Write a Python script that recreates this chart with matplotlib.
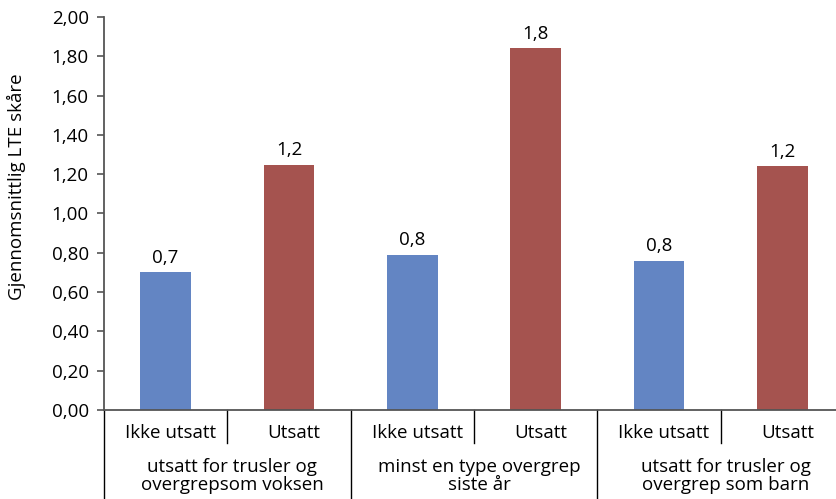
import matplotlib
matplotlib.use("Agg")
import matplotlib.pyplot as plt
from matplotlib.transforms import blended_transform_factory, ScaledTranslation

plt.rcParams['font.family'] = ['Open Sans', 'DejaVu Sans']

groups = ["utsatt for trusler og\novergrepsom voksen",
          "minst en type overgrep\nsiste år",
          "utsatt for trusler og\novergrep som barn"]
subcats = ["Ikke utsatt", "Utsatt"]
values = [0.70, 1.249, 0.79, 1.84, 0.76, 1.24]
colors = ["#6385C3", "#A5534F"]
yticks = [0.0, 0.2, 0.4, 0.6, 0.8, 1.0, 1.2, 1.4, 1.6, 1.8, 2.0]
ylabel = "Gjennomsnittlig LTE skåre"

FS = 13.5
AXIS_COLOR = "#555555"
W, H = 836, 499
fig = plt.figure(figsize=(W / 100, H / 100), dpi=100)
ax = fig.add_axes([104 / W, (H - 410) / H, (844 - 104) / W, (410 - 17) / H])

n = len(values)
xs = list(range(n))
bar_colors = [colors[i % 2] for i in xs]
ax.bar(xs, values, width=0.41, color=bar_colors, zorder=2)

for x, v in zip(xs, values):
    ax.annotate(f"{v:.1f}".replace(".", ","), (x, v), xytext=(0, 7),
                textcoords="offset points", ha="center", va="baseline",
                fontsize=FS, color="#000000")

ax.set_xlim(-0.5, n - 0.5)
ax.set_ylim(0, 2.0)
ax.set_yticks(yticks)
ax.set_yticklabels([f"{t:.2f}".replace(".", ",") for t in yticks], fontsize=FS)
ax.tick_params(axis="y", direction="out", length=5, width=1.2,
               color=AXIS_COLOR, pad=6)
ax.set_xticks([])

fig.text(16 / W, 1 - 187 / H, ylabel, rotation=90, ha="center", va="center",
         fontsize=FS)

for side in ["top", "right"]:
    ax.spines[side].set_visible(False)
for side in ["left", "bottom"]:
    ax.spines[side].set_color(AXIS_COLOR)
    ax.spines[side].set_linewidth(1.3)

# Two-level category axis below the plot
tr = blended_transform_factory(ax.transData, fig.transFigure)
tr_txt = tr + ScaledTranslation(5 / 100, 0, fig.dpi_scale_trans)
y0 = (H - 410) / H
y_short = (H - 443) / H
y_bottom = 0.0
ax.plot([-0.5, -0.5], [y0, y_bottom], transform=tr, color="#000000",
        lw=1, clip_on=False)
for k in range(n - 1):
    edge = k + 0.5
    if k % 2 == 0:
        ax.plot([edge, edge], [y0, y_short], transform=tr, color="#000000",
                lw=1, clip_on=False)
    else:
        ax.plot([edge, edge], [y0, y_bottom], transform=tr, color="#000000",
                lw=1, clip_on=False)

for x in xs:
    ax.text(x, (H - 433) / H, subcats[x % 2], transform=tr_txt, ha="center",
            va="center", fontsize=FS)

for g, name in enumerate(groups):
    ax.text(2 * g + 0.5, (H - 476) / H, name, transform=tr_txt, ha="center",
            va="center", fontsize=FS, linespacing=1.0)

fig.savefig("out.png", dpi=100)
